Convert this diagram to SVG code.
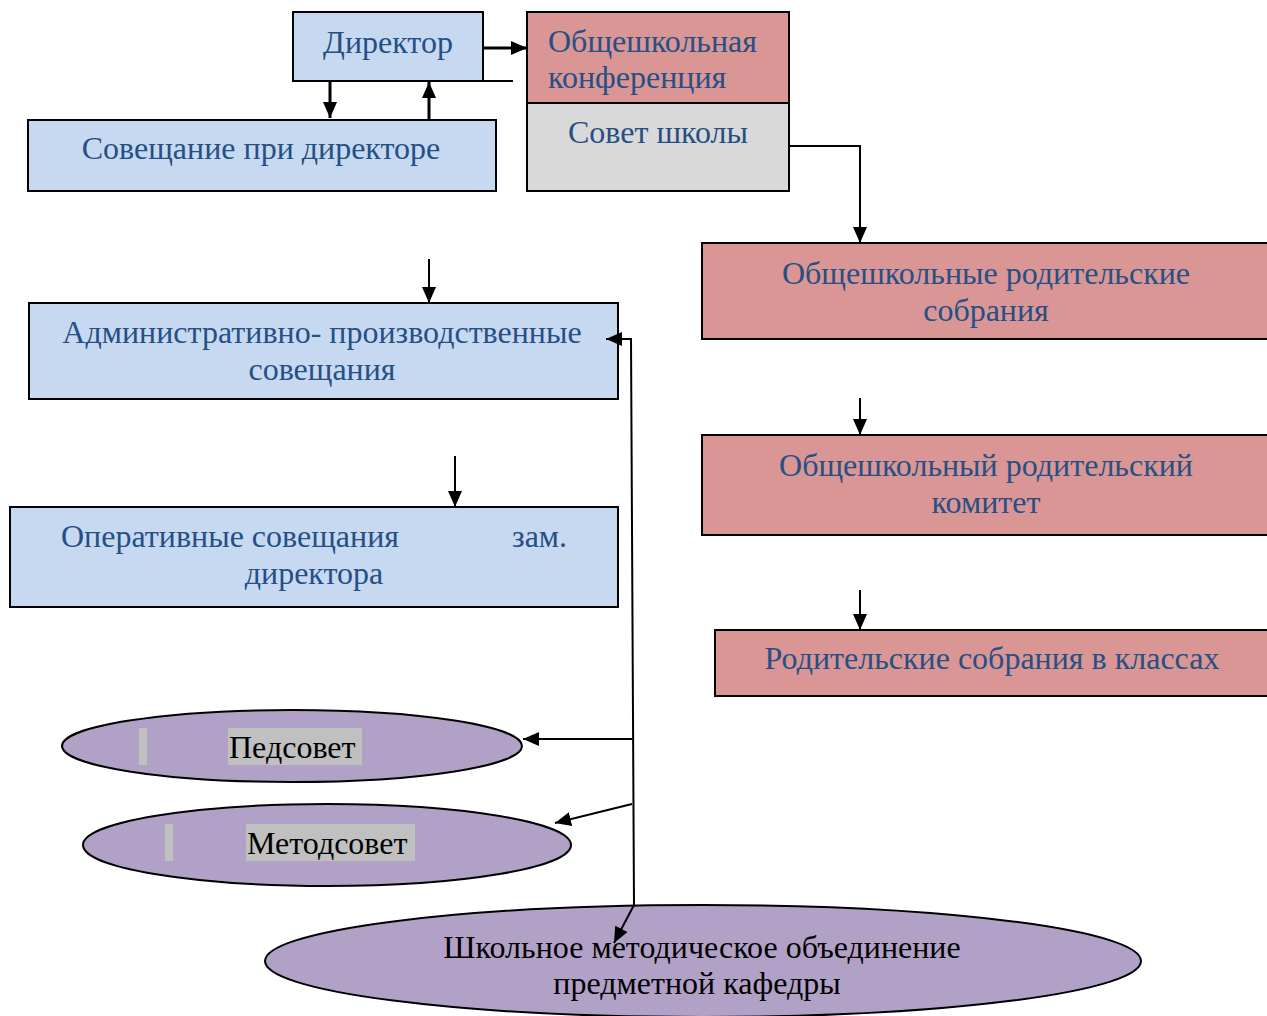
<svg xmlns="http://www.w3.org/2000/svg" width="1267" height="1016" viewBox="0 0 1267 1016">
<style>
.t{font-family:"Liberation Serif","Times New Roman",serif;font-size:32px;fill:#254f85}
.k{font-family:"Liberation Serif","Times New Roman",serif;font-size:32px;fill:#000}
.blue{fill:#c6d9f1;stroke:#000;stroke-width:2}
.red{fill:#d99694;stroke:#000;stroke-width:2}
.grey{fill:#d9d9d9;stroke:#000;stroke-width:2}
.ell{fill:#b2a1c7;stroke:#000;stroke-width:2}
.c{fill:none;stroke:#000;stroke-width:2}
.c3{fill:none;stroke:#000;stroke-width:3}
.hl{fill:#c0c0c0}
</style>
<defs>
<marker id="a" viewBox="0 0 16 14" refX="16" refY="7" markerWidth="16" markerHeight="14" orient="auto" markerUnits="userSpaceOnUse"><path d="M0,0 L16,7 L0,14 z" fill="#000"/></marker>
</defs>
<rect width="1267" height="1016" fill="#fff"/>
<g id="director"><rect class="blue" x="293" y="12" width="190" height="69"/><text class="t" x="388" y="53" text-anchor="middle">Директор</text></g>
<g id="soveshanie"><rect class="blue" x="28" y="120" width="468" height="71"/><text class="t" x="261" y="159" text-anchor="middle">Совещание при директоре</text></g>
<g id="konferencia"><rect class="red" x="527" y="12" width="262" height="91"/><text class="t" x="548" y="52">Общешкольная</text><text class="t" x="548" y="88">конференция</text></g>
<g id="sovet"><rect class="grey" x="527" y="103" width="262" height="88"/><text class="t" x="658" y="143" text-anchor="middle">Совет школы</text></g>
<g id="rod-sobrania"><rect class="red" x="702" y="243" width="570" height="96"/><text class="t" x="986" y="284" text-anchor="middle">Общешкольные родительские</text><text class="t" x="986" y="321" text-anchor="middle">собрания</text></g>
<g id="komitet"><rect class="red" x="702" y="435" width="570" height="100"/><text class="t" x="986" y="476" text-anchor="middle">Общешкольный родительский</text><text class="t" x="986" y="513" text-anchor="middle">комитет</text></g>
<g id="klassy"><rect class="red" x="715" y="630" width="557" height="66"/><text class="t" x="992" y="669" text-anchor="middle">Родительские собрания в классах</text></g>
<g id="admin"><rect class="blue" x="29" y="303" width="589" height="96"/><text class="t" x="322" y="343" text-anchor="middle">Административно- производственные</text><text class="t" x="322" y="380" text-anchor="middle">совещания</text></g>
<g id="operativ"><rect class="blue" x="10" y="507" width="608" height="100"/><text class="t" x="61" y="547">Оперативные совещания</text><text class="t" x="512" y="547">зам.</text><text class="t" x="314" y="584" text-anchor="middle">директора</text></g>
<g id="pedsovet"><ellipse class="ell" cx="292" cy="746" rx="230" ry="36"/><rect class="hl" x="139" y="728" width="8" height="37"/><rect class="hl" x="228" y="728" width="134" height="37"/><text class="k" x="229" y="758">Педсовет</text></g>
<g id="metodsovet"><ellipse class="ell" cx="327" cy="845" rx="244" ry="41"/><rect class="hl" x="165" y="824" width="8" height="37"/><rect class="hl" x="246" y="824" width="169" height="37"/><text class="k" x="247" y="854">Методсовет</text></g>
<g id="smo"><ellipse class="ell" cx="703" cy="961" rx="438" ry="56"/><text class="k" x="702" y="958" text-anchor="middle">Школьное методическое объединение</text><text class="k" x="697" y="994" text-anchor="middle">предметной кафедры</text></g>
<g id="connectors">
<path class="c3" d="M483,48 L527,48" marker-end="url(#a)"/>
<path class="c" d="M483,81 L513,81"/>
<path class="c3" d="M330,81 L330,118" marker-end="url(#a)"/>
<path class="c3" d="M429,120 L429,82" marker-end="url(#a)"/>
<path class="c" d="M789,48 L789,146 L860,146 L860,243" marker-end="url(#a)"/>
<path class="c" d="M860,398 L860,435" marker-end="url(#a)"/>
<path class="c" d="M860,590 L860,630" marker-end="url(#a)"/>
<path class="c" d="M429,259 L429,303" marker-end="url(#a)"/>
<path class="c" d="M455,456 L455,507" marker-end="url(#a)"/>
<path class="c" d="M634,905 L631,339 L606,339" marker-end="url(#a)"/>
<path class="c" d="M632,739 L523,739" marker-end="url(#a)"/>
<path class="c" d="M632,804 L555,823" marker-end="url(#a)"/>
<path class="c" d="M634,905 L614,943" marker-end="url(#a)"/>
</g>
</svg>
